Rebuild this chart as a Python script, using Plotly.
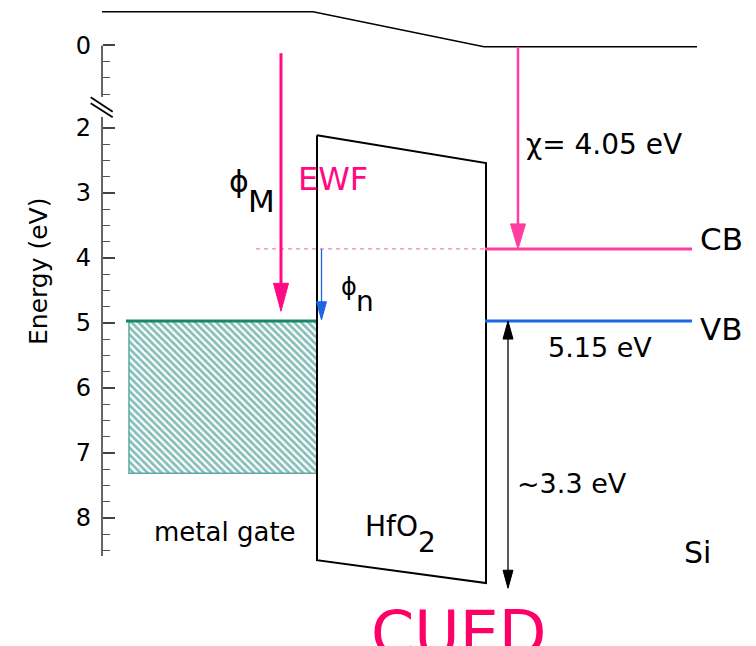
import plotly.graph_objects as go

# ---------------- data (energies in eV, positive downward) ----------------
tick_energies = [0, 2, 3, 4, 5, 6, 7, 8]
tick_labels = ["0", "2", "3", "4", "5", "6", "7", "8"]
minor_energies = [0.25, 0.5, 0.75] + [2 + 0.25 * k for k in range(1, 27) if (2 + 0.25 * k) % 1 != 0]

E_vac_metal = -0.52
E_vac_si = 0.02
E_fermi_metal = 4.97
E_gate_bottom = 7.31
E_ox_cb = [2.11, 2.54]      # HfO2 conduction edge (gate side, Si side)
E_ox_vb = [8.65, 9.00]      # HfO2 valence edge (gate side, Si side)
E_si_cb = 3.86
E_si_vb = 4.97
E_phiM = [0.12, 4.82]
E_phin = [3.86, 4.95]
E_chi = [0.02, 3.86]
E_gap_arrow = [4.97, 9.08]

labels = {
    "chi": "χ= 4.05 eV",
    "vb_gap": "5.15 eV",
    "ox_gap": "~3.3 eV",
}

# ---------------- axis-break mapping ----------------
OFF = 0.73  # shift for the section above the axis break


def disp(e):
    return e + OFF if e < 1 else e


def px2y(p):  # layout helper: pixel row -> axis units
    return 2 + (p - 128) / 65.0


W, H = 756, 646
FONT = "DejaVu Sans"
PINK_DEEP = "#ff0a85"
PINK = "#ff3d9e"
BLUE = "#1a66e6"
GREEN = "#138a63"
TEAL = "#0f7d73"

# x positions of the structure (schematic layout)
X_AXIS = 102
X_GATE_L = 128
X_GATE_R = 317
X_OX_R = 485
X_SI_R = 692

fig = go.Figure()


def line(xs, ys, color, width, dash=None):
    fig.add_trace(go.Scatter(x=xs, y=ys, mode="lines",
                             line=dict(color=color, width=width, dash=dash),
                             hoverinfo="skip", showlegend=False))


def arrow_head(x, y_tip, length_px, half_w_px, color, down=True):
    L = length_px / 65.0
    yb = y_tip - L if down else y_tip + L
    fig.add_trace(go.Scatter(x=[x - half_w_px, x + half_w_px, x, x - half_w_px],
                             y=[yb, yb, y_tip, yb], mode="lines", fill="toself",
                             fillcolor=color, line=dict(color=color, width=1),
                             hoverinfo="skip", showlegend=False))


# hatched metal region
fig.add_trace(go.Scatter(
    x=[X_GATE_L + 1, X_GATE_R, X_GATE_R, X_GATE_L + 1, X_GATE_L + 1],
    y=[disp(E_fermi_metal)] * 2 + [disp(E_gate_bottom)] * 2 + [disp(E_fermi_metal)],
    mode="lines", fill="toself", fillcolor="white",
    fillpattern=dict(shape="\\", fgcolor=TEAL, bgcolor="white", size=5, solidity=0.55),
    line=dict(color="#5aaba2", width=1.5), hoverinfo="skip", showlegend=False))

# metal Fermi level
line([X_GATE_L - 2, X_GATE_R], [disp(E_fermi_metal)] * 2, GREEN, 3)

# vacuum level
line([X_AXIS, 313, X_OX_R - 1, 697],
     [disp(E_vac_metal), disp(E_vac_metal), disp(E_vac_si), disp(E_vac_si)], "black", 1.5)

# HfO2 band
line([X_GATE_R, X_OX_R + 1, X_OX_R + 1, X_GATE_R, X_GATE_R],
     [disp(E_ox_cb[0]), disp(E_ox_cb[1]), disp(E_ox_vb[1]), disp(E_ox_vb[0]), disp(E_ox_cb[0])],
     "black", 2)

# Si bands
line([256, X_OX_R], [disp(E_si_cb)] * 2, "#ff80b0", 1.2, dash="4px,4px")
line([X_OX_R, X_SI_R], [disp(E_si_cb)] * 2, PINK, 3)
line([X_OX_R, X_SI_R], [disp(E_si_vb)] * 2, BLUE, 3)

# phi_M arrow
xm = 281
line([xm, xm], [disp(E_phiM[0]), disp(E_phiM[1]) - 0.3], PINK_DEEP, 3)
arrow_head(xm, disp(E_phiM[1]), 28, 7.5, PINK_DEEP)

# phi_n arrow
xn = 321.5
line([xn, xn], [disp(E_phin[0]), disp(E_phin[1]) - 0.2], BLUE, 1.3)
arrow_head(xn, disp(E_phin[1]), 18, 5, BLUE)

# chi arrow
xc = 518
line([xc, xc], [disp(E_chi[0]), disp(E_chi[1]) - 0.3], PINK, 2.5)
arrow_head(xc, disp(E_chi[1]), 25, 7.5, PINK)

# oxide offset double arrow
xg = 508
line([xg, xg], [disp(E_gap_arrow[0]) + 0.2, disp(E_gap_arrow[1]) - 0.2], "black", 1.3)
arrow_head(xg, disp(E_gap_arrow[0]), 18, 5, "black", down=False)
arrow_head(xg, disp(E_gap_arrow[1]), 18, 5, "black", down=True)

# broken axis line
AX_COL = "#333333"
line([X_AXIS, X_AXIS], [disp(0), px2y(97)], AX_COL, 1.5)
line([X_AXIS, X_AXIS], [px2y(117), px2y(556)], AX_COL, 1.5)
line([90.7, 112.7], [px2y(97.3), px2y(111.7)], "black", 1.8)
line([90.7, 112.7], [px2y(103.3), px2y(117.3)], "black", 1.8)

# ---------------- annotations ----------------
ann = []


def text(x, y, s, size, color="black", xanchor="center", angle=0):
    ann.append(dict(x=x, y=y, text=s, showarrow=False, xanchor=xanchor, yanchor="middle",
                    textangle=angle, font=dict(family=FONT, size=size, color=color)))


text(38, px2y(272), "Energy (eV)", 25, angle=-90)
text(238.5, px2y(181), "ϕ", 30)
text(261, px2y(200.5), "M", 31)
text(332.5, px2y(179), "EWF", 32, color=PINK_DEEP)
text(349, px2y(287), "ϕ", 24)
text(365, px2y(301), "n", 28)
text(524, px2y(144), labels["chi"], 28, xanchor="left")
text(698, px2y(239), "CB", 31, xanchor="left")
text(698, px2y(329), "VB", 31, xanchor="left")
text(600, px2y(347), labels["vb_gap"], 27)
text(515, px2y(483), labels["ox_gap"], 27, xanchor="left")
text(682, px2y(552), "Si", 30, xanchor="left")
text(225, px2y(532), "metal gate", 26)
text(363, px2y(526), "HfO", 28, xanchor="left")
text(416, px2y(542), "2", 28, xanchor="left")
text(458.5, px2y(633), "CUED", 62, color="#ff0066")

fig.update_layout(
    width=W, height=H,
    margin=dict(l=0, r=0, t=0, b=0, pad=0),
    paper_bgcolor="white", plot_bgcolor="white",
    showlegend=False,
    annotations=ann,
    xaxis=dict(range=[0, W], visible=False, fixedrange=True),
    yaxis=dict(
        range=[px2y(H), px2y(0)],
        anchor="free", position=X_AXIS / W,
        showline=False, showgrid=False, zeroline=False, fixedrange=True,
        tickmode="array",
        tickvals=[disp(e) for e in tick_energies], ticktext=tick_labels,
        ticks="inside", ticklen=12, tickwidth=1.5, tickcolor="#444444",
        tickfont=dict(family=FONT, size=24, color="black"),
        ticklabelstandoff=11,
        minor=dict(tickvals=[disp(e) for e in minor_energies], ticks="inside",
                   ticklen=7, tickwidth=1.2, tickcolor="#555555", showgrid=False),
    ),
)

fig.write_html("out.html", config={"displayModeBar": False},
               post_script="document.body.style.margin='0';document.body.style.overflow='hidden';")
